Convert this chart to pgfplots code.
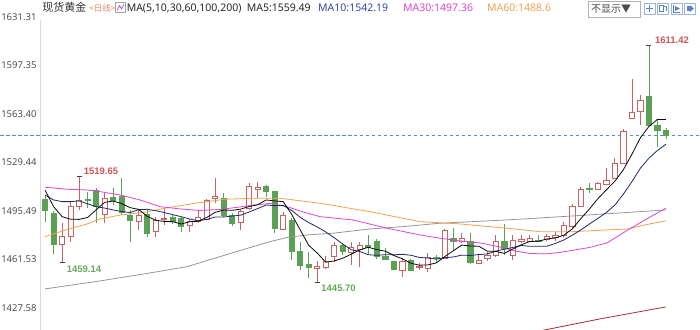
\documentclass[border=0pt]{standalone}
\usepackage{fontspec}
\setmainfont{Noto Sans}
\newfontfamily\cjk{Noto Sans CJK SC}
\newfontfamily\lbl{Liberation Sans}
\usepackage{pgfplots}
\pgfplotsset{compat=1.18}

\definecolor{cred}{RGB}{196,100,100}
\definecolor{cgreen}{RGB}{92,160,88}
\definecolor{lred}{RGB}{208,84,84}
\definecolor{lgreen}{RGB}{104,168,92}
\definecolor{ma5c}{RGB}{10,10,10}
\definecolor{ma10c}{RGB}{30,40,105}
\definecolor{ma10t}{RGB}{50,70,170}
\definecolor{ma30c}{RGB}{222,70,210}
\definecolor{ma60c}{RGB}{240,162,80}
\definecolor{ma100c}{RGB}{150,150,150}
\definecolor{ma200c}{RGB}{168,50,50}
\definecolor{dashc}{RGB}{80,144,210}
\definecolor{tickc}{RGB}{80,80,80}
\definecolor{ribc}{RGB}{240,130,110}
\definecolor{iconc}{RGB}{90,130,200}

\pgfplotsset{
  upw/.style={draw=cred, line width=0.8pt, solid, mark=none},
  upb/.style={draw=cred, fill=white, line width=0.8pt, solid, mark=none},
  dnw/.style={draw=cgreen, line width=0.8pt, solid, mark=none},
  dnb/.style={draw=cgreen, fill=cgreen, line width=0.8pt, solid, mark=none},
}
% #1 = up/dn, #2 = index, #3 = open, #4 = high, #5 = low, #6 = close
\newcommand{\candle}[6]{%
  \pgfmathsetmacro{\xa}{#2-0.31}\pgfmathsetmacro{\xb}{#2+0.31}%
  \addplot[#1w] coordinates {(#2,#5) (#2,#4)};
  \addplot[#1b] coordinates {(\xa,#3) (\xb,#3) (\xb,#6) (\xa,#6)} -- cycle;
}
\newcommand{\cu}[5]{\candle{up}{#1}{#2}{#3}{#4}{#5}}
\newcommand{\cd}[5]{\candle{dn}{#1}{#2}{#3}{#4}{#5}}

\begin{document}
\begin{tikzpicture}
\begin{axis}[name=a,
  width=700pt, height=330pt, scale only axis,
  xmin=-5.290, xmax=76.996, ymin=1412.18, ymax=1643.21,
  axis line style={draw=none},
  xtick=\empty,
  ytick={1427.58,1461.53,1495.49,1529.44,1563.40,1597.35,1631.31},
  yticklabels={1427.58,1461.53,1495.49,1529.44,1563.40,1597.35,1631.31},
  major tick length=0pt,
  yticklabel style={anchor=west, inner sep=0pt, xshift=1pt, font=\fontsize{9.5}{11}\selectfont, text=tickc},
  /pgf/number format/assume math mode=true,
]
% left border
\addplot[gray!30, line width=0.6pt] coordinates {(-0.588,1412.18) (-0.588,1629.2)};
% current price dashed line
\addplot[dashc, line width=0.7pt, dash pattern=on 3.5pt off 2.5pt] coordinates {(-5.29,1548.5) (76.996,1548.5)};

% candles: i, O, H, L, C
\cd{0}{1503.7}{1506}{1487.5}{1496.2}
\cd{1}{1494}{1495.5}{1465}{1472}
\cu{2}{1472.4}{1487}{1459.14}{1478}
\cu{3}{1478}{1502}{1474}{1498.5}
\cu{4}{1499}{1519.65}{1496}{1503.2}
\cd{5}{1503.5}{1509}{1497.5}{1503}
\cd{6}{1509.7}{1511.4}{1486.9}{1498.5}
\cu{7}{1493.4}{1507.9}{1486.9}{1504.4}
\cd{8}{1505}{1511.5}{1500}{1503}
\cd{9}{1505.5}{1518.4}{1492.7}{1494.3}
\cd{10}{1492.7}{1496.2}{1474}{1488.7}
\cu{11}{1488}{1496.2}{1482.2}{1492.7}
\cd{12}{1493}{1496}{1477}{1480}
\cu{13}{1481}{1491.5}{1477.5}{1489.2}
\cu{14}{1489.5}{1497}{1485.5}{1490}
\cd{15}{1491.1}{1492.7}{1486.3}{1488}
\cd{16}{1490.4}{1491.5}{1481}{1484.5}
\cu{17}{1485.7}{1490}{1481}{1488}
\cu{18}{1488}{1496.2}{1486.9}{1490.8}
\cu{19}{1489.7}{1504}{1489}{1503.2}
\cu{20}{1504.4}{1518.4}{1501}{1506}
\cd{21}{1504.4}{1507.9}{1491.5}{1492.7}
\cd{22}{1492.7}{1494}{1485}{1486.9}
\cu{23}{1487.3}{1496.2}{1482.2}{1495}
\cu{24}{1497.4}{1514.9}{1496.2}{1512.5}
\cu{25}{1510.5}{1516}{1504}{1512}
\cd{26}{1513}{1514}{1505.5}{1509.5}
\cd{27}{1509}{1509.5}{1479.9}{1483.4}
\cu{28}{1482.9}{1495}{1482}{1492.7}
\cd{29}{1489.2}{1490.4}{1461.2}{1467.5}
\cd{30}{1467.5}{1474}{1454.2}{1457.7}
\cd{31}{1458.2}{1466.6}{1448.4}{1455.8}
\cu{32}{1455.2}{1460.5}{1445.70}{1456.5}
\cu{33}{1455.8}{1464}{1454.5}{1460.5}
\cu{34}{1463.5}{1474}{1460}{1471.7}
\cd{35}{1471.2}{1473}{1464.5}{1467.5}
\cu{36}{1466.6}{1474}{1457.7}{1469.8}
\cu{37}{1468.5}{1474}{1456.5}{1471.5}
\cd{38}{1471.7}{1478.7}{1465.2}{1469.8}
\cd{39}{1474.5}{1476}{1462}{1463.5}
\cd{40}{1463.5}{1469.4}{1461.2}{1461.9}
\cd{41}{1460}{1460.5}{1454.2}{1454.9}
\cu{42}{1454.2}{1462.4}{1449.5}{1460}
\cd{43}{1461.2}{1461.5}{1454}{1454.2}
\cu{44}{1455.8}{1458.9}{1454.2}{1456.5}
\cu{45}{1455.3}{1465.9}{1453}{1462.8}
\cd{46}{1462.8}{1464.7}{1458.9}{1462}
\cu{47}{1462.4}{1483}{1461.5}{1482.2}
\cd{48}{1476.5}{1483.4}{1468}{1474.5}
\cu{49}{1474}{1479.9}{1472.9}{1476.4}
\cd{50}{1474.5}{1479.9}{1458.2}{1459.6}
\cu{51}{1458.9}{1464.7}{1458.2}{1461.2}
\cu{52}{1462.4}{1466.6}{1460.5}{1464.7}
\cu{53}{1464.7}{1478.7}{1463.5}{1474}
\cd{54}{1474}{1486.2}{1464.7}{1469.4}
\cu{55}{1464.7}{1478.7}{1461.2}{1475.2}
\cu{56}{1474.5}{1478.7}{1472.9}{1475.7}
\cu{57}{1474.5}{1478.7}{1474}{1476.4}
\cd{58}{1475}{1478.7}{1474}{1474.5}
\cu{59}{1475.9}{1479.2}{1474.5}{1477.5}
\cu{60}{1477}{1480.5}{1474.5}{1478.5}
\cu{61}{1478.7}{1487.5}{1477}{1485.7}
\cu{62}{1484.5}{1500.1}{1483.4}{1498.5}
\cu{63}{1498.5}{1512.5}{1498}{1510.7}
\cd{64}{1511}{1515.3}{1507.9}{1510.5}
\cu{65}{1510.7}{1516}{1510}{1514.9}
\cu{66}{1514.4}{1525.4}{1514}{1516.7}
\cu{67}{1518.4}{1532.4}{1517.7}{1528.9}
\cu{68}{1528.9}{1552.7}{1528.4}{1551}
\cu{69}{1560.4}{1587.7}{1559.7}{1564.3}
\cu{70}{1565}{1576.7}{1555.7}{1573.2}
\cd{71}{1575.5}{1611.42}{1555.5}{1555.7}
\cd{72}{1555.7}{1559.2}{1540.5}{1552.2}
\cd{73}{1551.7}{1553.4}{1545.7}{1548.5}

% MA200
\addplot[ma200c, line width=0.8pt] coordinates {(56,1409.5) (58.19,1411.48) (65.24,1419.88) (73,1428.28)};
% MA100
\addplot[ma100c, line width=0.8pt] coordinates {(0,1440.9) (6.47,1446.48) (12.34,1452.08) (16.69,1456.49) (20.57,1463.50) (24.45,1470.50) (26.45,1474.0) (28.45,1476.94) (30.8,1478.69) (33.85,1479.88) (38.2,1482.89) (42.08,1484.5) (46.43,1486.88) (54.31,1489.19) (62.07,1491.99) (67.59,1494.09) (73,1496.19)};
% MA60
\addplot[ma60c, line width=0.8pt] coordinates {(0,1477.5) (2.59,1482.5) (4.94,1486.4) (6.47,1489.9) (8.82,1492.6) (11.76,1494.6) (14.11,1497.38) (17.63,1500.88) (21.16,1503.68) (24.69,1504.38) (27.62,1504.38) (32.33,1500.88) (38.2,1494.99) (44.08,1487.98) (48.78,1486.39) (54.31,1483.38) (58.19,1480.98) (62.07,1480.98) (66.06,1482.19) (68.53,1482.89) (70.53,1485.69) (73,1488.6)};
% MA30
\addplot[ma30c, line width=0.8pt] coordinates {(0,1512.08) (2.59,1510.68) (4.94,1510.19) (6.47,1509.0) (8.82,1506.69) (11.17,1503.19) (13.52,1498.5) (15.87,1496.89) (18.22,1495.84) (20.57,1496.54) (22.92,1498.29) (24.69,1499.69) (26.45,1500.74) (28.45,1498.5) (30.33,1494.79) (32.33,1491.5) (36.21,1489.19) (40.2,1483.38) (44.08,1478.69) (46.43,1476.38) (48.78,1474.49) (51.13,1473.09) (53.49,1470.29) (55.25,1467.49) (57.01,1465.74) (58.77,1465.39) (60.54,1466.44) (62.3,1468.19) (64.06,1469.94) (66.06,1473.09) (68.53,1482.19) (70.53,1489.19) (73,1497.36)};
% MA10
\addplot[ma10c, line width=0.8pt] coordinates {(0,1506.6) (1,1503.2) (2,1502.0) (3,1502.0) (4,1502.5) (5,1500.5) (6,1498.5) (7,1497.5) (8,1496.2) (9,1495.11) (10,1494.36) (11,1496.43) (12,1496.63) (13,1495.70) (14,1494.38) (15,1492.88) (16,1491.48) (17,1489.84) (18,1488.62) (19,1489.51) (20,1491.24) (21,1491.24) (22,1491.93) (23,1492.51) (24,1494.76) (25,1497.16) (26,1499.66) (27,1499.20) (28,1499.39) (29,1495.82) (30,1490.99) (31,1487.30) (32,1484.26) (33,1480.81) (34,1476.73) (35,1472.28) (36,1468.31) (37,1467.12) (38,1464.83) (39,1464.43) (40,1464.85) (41,1464.76) (42,1465.11) (43,1464.48) (44,1462.96) (45,1462.49) (46,1461.71) (47,1462.78) (48,1463.25) (49,1464.54) (50,1464.31) (51,1464.94) (52,1465.41) (53,1467.39) (54,1468.68) (55,1469.92) (56,1471.29) (57,1470.71) (58,1470.71) (59,1470.82) (60,1472.71) (61,1475.16) (62,1478.54) (63,1482.21) (64,1486.32) (65,1490.29) (66,1494.39) (67,1499.64) (68,1507.29) (69,1515.97) (70,1525.44) (71,1532.44) (72,1537.81) (73,1542.19)};
% MA5
\addplot[ma5c, line width=0.8pt] coordinates {(0,1510) (1,1498.5) (2,1491.5) (3,1489.7) (4,1489.58) (5,1490.94) (6,1496.24) (7,1501.52) (8,1502.42) (9,1500.64) (10,1497.78) (11,1496.62) (12,1491.74) (13,1488.98) (14,1488.12) (15,1487.98) (16,1486.34) (17,1487.94) (18,1488.26) (19,1490.90) (20,1494.50) (21,1496.14) (22,1495.92) (23,1496.76) (24,1498.62) (25,1499.82) (26,1503.18) (27,1502.48) (28,1502.02) (29,1493.02) (30,1482.16) (31,1471.42) (32,1466.04) (33,1459.60) (34,1460.44) (35,1462.40) (36,1465.20) (37,1468.20) (38,1470.06) (39,1468.42) (40,1467.30) (41,1464.32) (42,1462.02) (43,1458.90) (44,1457.50) (45,1457.68) (46,1459.10) (47,1463.54) (48,1467.60) (49,1471.58) (50,1470.94) (51,1470.78) (52,1467.28) (53,1467.18) (54,1465.78) (55,1468.90) (56,1471.80) (57,1474.14) (58,1474.24) (59,1475.86) (60,1476.52) (61,1478.52) (62,1482.94) (63,1490.18) (64,1496.78) (65,1504.06) (66,1510.26) (67,1516.34) (68,1524.40) (69,1535.16) (70,1546.82) (71,1554.62) (72,1559.6) (73,1559.49)};

% extreme caps
\addplot[only marks, mark=-, mark size=2.5pt, mark options={line width=0.8pt}, black!75] coordinates {(4,1519.65) (71,1611.42) (2,1459.14) (32,1445.70)};

% extreme labels
\node[anchor=south west, inner sep=0pt, xshift=4.5pt, yshift=2pt, text=lred, font=\lbl\fontsize{9.5}{11}\selectfont\bfseries] at (axis cs:4,1519.65) {1519.65};
\node[anchor=south west, inner sep=0pt, xshift=6pt, yshift=2pt, text=lred, font=\lbl\fontsize{9.5}{11}\selectfont\bfseries] at (axis cs:71,1611.42) {1611.42};
\node[anchor=north west, inner sep=0pt, xshift=4.5pt, yshift=-3pt, text=lgreen, font=\lbl\fontsize{9.5}{11}\selectfont\bfseries] at (axis cs:2,1459.14) {1459.14};
\node[anchor=north west, inner sep=0pt, xshift=4pt, yshift=-3pt, text=lgreen, font=\lbl\fontsize{9.5}{11}\selectfont\bfseries] at (axis cs:32,1445.70) {1445.70};
\end{axis}

\path (a.south west) rectangle (a.north east);

\begin{scope}[shift={(a.north west)}, x=1pt, y=-1pt]
  \node[anchor=base west, inner sep=0pt, text=black!80] at (42,12) {\cjk\fontsize{11}{13}\selectfont 现货黄金};
  \node[anchor=base west, inner sep=0pt, text=ribc] at (89,11.5) {\cjk\fontsize{8.5}{10}\selectfont <日线>};
  % indicator icon
  \draw[gray!70, line width=0.6pt] (115.5,2.5) rectangle (125.5,12.5);
  \draw[violet!70, line width=0.7pt] (117,10.5) -- (119.5,5.5) -- (121.5,9) -- (124,4);
  \node[anchor=base west, inner sep=0pt, text=black!85] at (126.5,12) {\fontsize{10.5}{12}\selectfont MA(5,10,30,60,100,200)\ \ MA5:1559.49};
  \node[anchor=base west, inner sep=0pt, text=ma10t] at (318,12) {\fontsize{10.5}{12}\selectfont MA10:1542.19};
  \node[anchor=base west, inner sep=0pt, text=ma30c] at (403,12) {\fontsize{10.5}{12}\selectfont MA30:1497.36};
  \node[anchor=base west, inner sep=0pt, text=ma60c] at (487,12) {\fontsize{10.5}{12}\selectfont MA60:1488.6};
  % dropdown
  \draw[gray!60, line width=0.6pt, fill=white] (588,1.5) rectangle (640,17);
  \node[anchor=base west, inner sep=0pt, text=black!70] at (591,13) {\cjk\fontsize{10}{12}\selectfont 不显示▼};
  % small tool icons
  \foreach \xx in {644,657.5,671,684.5} {
    \draw[iconc!60, line width=0.6pt, fill=white] (\xx,3) rectangle (\xx+11,14);
  }
  \draw[iconc, line width=0.7pt] (649.5,5) -- (649.5,12) (646,8.5) -- (653,8.5);
  \draw[iconc, line width=0.7pt] (659.5,5.5) rectangle (663.5,11.5) (664.5,6) -- (666.5,6) -- (666.5,11);
  \draw[iconc, line width=0.7pt] (673.5,5) -- (673.5,12) -- (680,12);
  \fill[iconc] (675,6) -- (680,8.5) -- (675,11) -- cycle;
  \fill[iconc] (687,6) rectangle (690,11);
  \fill[iconc] (690,5) -- (694,8.5) -- (690,12) -- cycle;
\end{scope}
\end{tikzpicture}
\end{document}
